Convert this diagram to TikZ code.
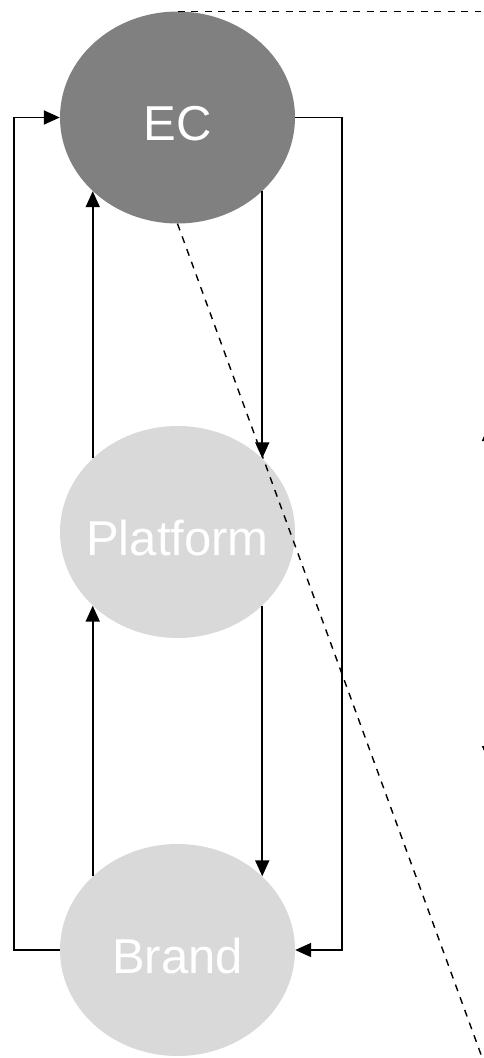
\documentclass[tikz,border=0pt]{standalone}
\usepackage{fontspec}
\setmainfont{Liberation Sans}
\usetikzlibrary{arrows.meta,shapes.geometric}

\definecolor{ecgray}{HTML}{808080}
\definecolor{lightgray}{HTML}{D9D9D9}

\tikzset{
    blob/.style={ellipse, draw=none, inner xsep=-25pt, inner ysep=0pt,
        minimum width=235pt, minimum height=212pt,
        text height=46pt, text depth=0pt,
        text=white, font=\fontsize{49}{52}\selectfont},
    link/.style={black, line width=1.8pt, ->},
    guide/.style={black, line width=1.4pt, dash pattern=on 7pt off 6.5pt}
}

\begin{document}
\begin{tikzpicture}[x=1pt, y=-1pt, >={Triangle[length=16pt,width=14pt]}]
    \useasboundingbox (0,0) rectangle (484,1058);
    \clip (0,0) rectangle (484,1058);

        \node[blob, fill=ecgray] (ec) at (177.5,117.5) {EC};
        \node[blob, fill=lightgray] (platform) at (177.5,532) {Platform};
        \node[blob, fill=lightgray] (brand) at (177.5,950) {Brand};

        % outer loops
        \draw[link] (brand.west) -- ++(-46,0) |- (ec.west);
        \draw[link] (ec.east) -- ++(47,0) |- (brand.east);

        % inner arrows
        \draw[link] (ec.-41) -- (platform.41);
        \draw[link] (platform.139) -- (ec.-139);
        \draw[link] (platform.-41) -- (brand.41);
        \draw[link] (brand.139) -- (platform.-139);

        % zoom guides
        \coordinate (far) at (483,1060);
        \draw[guide] (ec.north) -- ++(303,0);
        \draw[guide] (ec.south) -- (far);

        % span marker on the right edge
        \coordinate (spantop) at (489,425);
        \coordinate (spanbot) at (489,762);
        \draw[link, <->] (spantop) -- (spanbot);
    \end{tikzpicture}
\end{document}
